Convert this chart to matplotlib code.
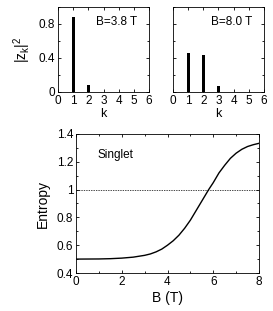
import matplotlib
matplotlib.use("Agg")
import matplotlib.pyplot as plt
from matplotlib.ticker import MultipleLocator

plt.rcParams['font.family'] = ['Liberation Sans', 'DejaVu Sans']
plt.rcParams['font.size'] = 8
plt.rcParams['mathtext.default'] = 'regular'

# bar data: weights |z_k|^2
k_vals = [1, 2, 3]
z_38 = [0.88, 0.08, 0.0]
z_80 = [0.46, 0.44, 0.07]
field_labels = ["B=3.8 T", "B=8.0 T"]

# entropy vs field
b_field = [0, 1, 1.5, 2, 2.5, 3, 3.25, 3.5, 3.75, 4, 4.25, 4.5, 4.75, 5, 5.2, 5.4,
           5.6, 5.8, 6, 6.25, 6.5, 6.75, 7, 7.25, 7.5, 7.75, 8]
entropy = [0.50, 0.501, 0.503, 0.507, 0.514, 0.527, 0.537, 0.552, 0.572, 0.60,
           0.632, 0.672, 0.722, 0.78, 0.835, 0.89, 0.945, 1.00, 1.05, 1.12, 1.175,
           1.225, 1.262, 1.29, 1.31, 1.323, 1.333]

fig = plt.figure(figsize=(2.73, 3.11), dpi=100)

def style(ax):
    ax.tick_params(direction='in', which='both', top=True, right=True,
                   length=2.5, width=0.6, labelsize=8.5, pad=2)
    ax.tick_params(which='minor', length=1.5)
    for s in ax.spines.values():
        s.set_linewidth(0.6)

ax1 = fig.add_axes([58/273, 1 - 92/311, 91/273, 85/311])
ax2 = fig.add_axes([173/273, 1 - 92/311, 91/273, 85/311])
for ax, z, lab in [(ax1, z_38, field_labels[0]), (ax2, z_80, field_labels[1])]:
    ax.bar(k_vals, z, width=0.18, color='black')
    ax.set_xlim(0, 6)
    ax.set_ylim(0, 1.0)
    ax.xaxis.set_major_locator(MultipleLocator(1))
    ax.yaxis.set_minor_locator(MultipleLocator(0.2))
    if ax is ax2:
        ax.yaxis.set_major_locator(MultipleLocator(0.4))
        ax.set_yticklabels([])
    else:
        ax.set_yticks([0, 0.4, 0.8], ['0', '0.4', '0.8'])
    ax.set_xlabel('k', fontsize=9, labelpad=1)
    ax.text(0.87, 0.82, lab, transform=ax.transAxes, ha='right', va='center', fontsize=8.5)
    style(ax)
ax1.set_ylabel('$|z_k|^2$', fontsize=10, labelpad=4)

ax3 = fig.add_axes([76/273, 1 - 273/311, 183/273, 139/311])
ax3.plot(b_field, entropy, color='black', lw=1.0)
ax3.axhline(1.0, color='black', lw=0.5, ls=(0, (2, 1.5)))
ax3.set_xlim(0, 8)
ax3.set_ylim(0.4, 1.4)
ax3.xaxis.set_major_locator(MultipleLocator(2))
ax3.xaxis.set_minor_locator(MultipleLocator(1))
ax3.yaxis.set_minor_locator(MultipleLocator(0.1))
ax3.set_yticks([0.4, 0.6, 0.8, 1.0, 1.2, 1.4], ['0.4', '0.6', '0.8', '1', '1.2', '1.4'])
ax3.set_xlabel('B (T)', fontsize=10, labelpad=2)
ax3.set_ylabel('Entropy', fontsize=10, labelpad=5)
ax3.text(0.95, 1.25, 'Singlet', ha='left', va='center', fontsize=8.5)
style(ax3)

fig.savefig('out.png', dpi=100)
